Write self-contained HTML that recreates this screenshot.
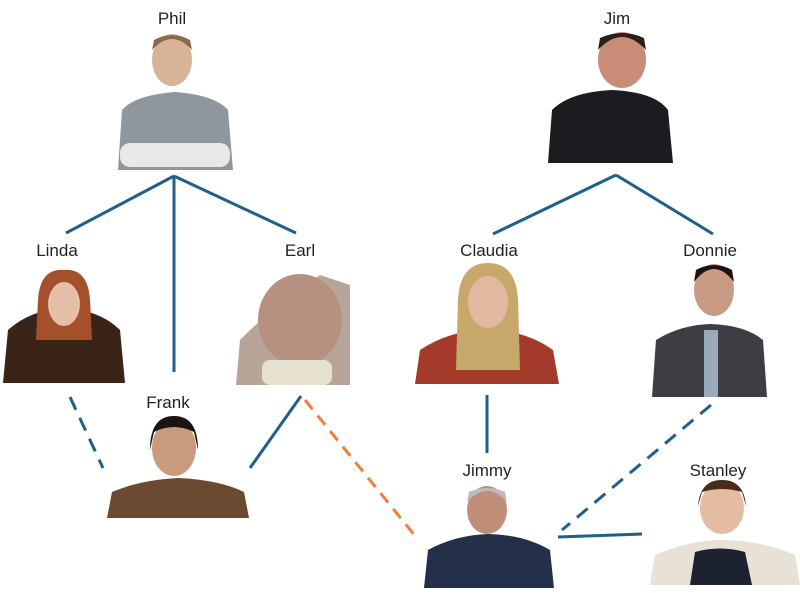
<!DOCTYPE html>
<html><head><meta charset="utf-8"><style>
html,body{margin:0;padding:0;background:#fff;}
svg{display:block}
text{font-family:"Liberation Sans",sans-serif;font-size:17px;fill:#222;text-anchor:middle}
</style></head><body>
<svg width="800" height="593" viewBox="0 0 800 593" xmlns="http://www.w3.org/2000/svg">
<g stroke="#1f5f8b" stroke-width="3" fill="none">
<line x1="174" y1="176" x2="66" y2="233"/>
<line x1="174" y1="176" x2="174" y2="372"/>
<line x1="174" y1="176" x2="296" y2="233"/>
<line x1="616" y1="175" x2="493" y2="234"/>
<line x1="616" y1="175" x2="713" y2="234"/>
<line x1="487" y1="395" x2="487" y2="453"/>
<line x1="70" y1="397" x2="103" y2="468" stroke-dasharray="14,9"/>
<line x1="301" y1="396" x2="250" y2="468"/>
<line x1="711" y1="405" x2="562" y2="530" stroke-dasharray="14,9"/>
<line x1="558" y1="537" x2="642" y2="534"/>
</g>
<line x1="305" y1="400" x2="416" y2="537" stroke="#f07f3c" stroke-width="3" stroke-dasharray="12,8"/>

<!-- Phil -->
<path d="M118 170 L122 110 Q135 95 175 92 Q215 95 228 110 L233 170 Z" fill="#8f979c"/>
<ellipse cx="172" cy="60" rx="20" ry="26" fill="#d9b29a"/>
<path d="M152 50 Q172 28 192 50 L190 40 Q172 30 154 40Z" fill="#8a6a4a"/>
<rect x="120" y="143" width="110" height="24" rx="10" fill="#e8e8e8"/>
<!-- Jim -->
<path d="M548 163 L552 110 Q570 92 612 90 Q655 92 668 110 L673 163 Z" fill="#1c1c20"/>
<ellipse cx="622" cy="60" rx="24" ry="28" fill="#c98d77"/>
<path d="M598 50 Q622 24 646 50 L644 38 Q622 28 600 38Z" fill="#2a2018"/>
<!-- Linda -->
<path d="M3 383 L8 330 Q30 310 64 308 Q100 310 120 330 L125 383 Z" fill="#3a2418"/>
<path d="M38 300 Q40 268 64 270 Q88 268 90 300 L92 340 L36 340 Z" fill="#a4502a"/>
<ellipse cx="64" cy="304" rx="16" ry="22" fill="#e6bfa8"/>
<!-- Earl -->
<path d="M236 385 L240 340 Q280 300 320 275 L350 285 L350 385 Z" fill="#b8a59a"/>
<ellipse cx="300" cy="320" rx="42" ry="46" fill="#b69080"/>
<rect x="262" y="360" width="70" height="25" rx="8" fill="#e5e0d0"/>
<!-- Frank -->
<path d="M107 518 L112 492 Q140 480 178 478 Q220 480 244 492 L249 518 Z" fill="#6a4a30"/>
<ellipse cx="174" cy="448" rx="22" ry="28" fill="#c99a7c"/>
<path d="M150 450 Q150 416 174 416 Q198 416 198 450 L194 432 Q174 422 154 432Z" fill="#1c1410"/>
<!-- Claudia -->
<path d="M415 384 L420 350 Q450 330 487 330 Q525 330 553 350 L559 384 Z" fill="#a33a2a"/>
<path d="M458 300 Q460 263 488 263 Q516 263 518 300 L520 370 L456 370 Z" fill="#c8a86a"/>
<ellipse cx="488" cy="302" rx="20" ry="26" fill="#e2b8a0"/>
<!-- Donnie -->
<path d="M652 397 L656 340 Q680 325 710 324 Q745 325 763 340 L767 397 Z" fill="#3c3e44"/>
<rect x="704" y="330" width="14" height="67" fill="#9ab"/>
<ellipse cx="714" cy="290" rx="20" ry="26" fill="#c89a84"/>
<path d="M694 282 Q714 256 734 282 L732 270 Q714 260 696 270Z" fill="#1a1410"/>
<!-- Jimmy -->
<path d="M424 588 L428 550 Q455 535 489 534 Q525 535 550 550 L554 588 Z" fill="#24304a"/>
<ellipse cx="487" cy="510" rx="20" ry="24" fill="#c08d78"/>
<path d="M467 502 Q487 480 507 502 L505 492 Q487 484 469 492Z" fill="#bbb"/>
<!-- Stanley -->
<path d="M650 585 L655 555 Q690 540 722 540 Q760 540 795 555 L800 585 Z" fill="#e8e2d6"/>
<path d="M690 585 L695 552 Q720 545 745 552 L752 585 Z" fill="#1c2230"/>
<ellipse cx="722" cy="508" rx="22" ry="26" fill="#e4bca4"/>
<path d="M698 506 Q700 480 722 480 Q744 480 746 506 L742 492 Q722 486 702 492Z" fill="#4a2a18"/>

<text x="172" y="24">Phil</text>
<text x="617" y="24">Jim</text>
<text x="57" y="256">Linda</text>
<text x="300" y="256">Earl</text>
<text x="168" y="408">Frank</text>
<text x="489" y="256">Claudia</text>
<text x="710" y="256">Donnie</text>
<text x="487" y="476">Jimmy</text>
<text x="718" y="476">Stanley</text>
</svg>
</body></html>
